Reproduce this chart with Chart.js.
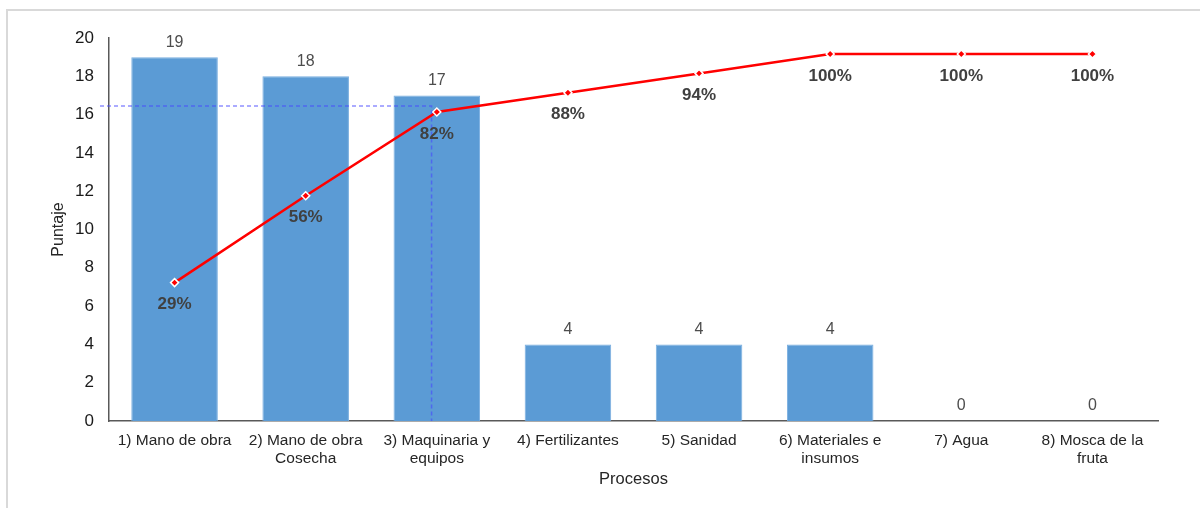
<!DOCTYPE html>
<html>
<head>
<meta charset="utf-8">
<script src="https://cdn.jsdelivr.net/npm/chart.js@4.4.1/dist/chart.umd.min.js"></script>
<style>
  html, body { margin: 0; padding: 0; background: #ffffff; }
  #wrap { width: 1200px; height: 508px; position: relative; }
</style>
</head>
<body>
<div id="wrap"><canvas id="pareto" width="1200" height="508"></canvas></div>
<script>
// Pareto data: score per process and cumulative share
const categories = [
  ['1) Mano de obra'],
  ['2) Mano de obra', 'Cosecha'],
  ['3) Maquinaria y', 'equipos'],
  ['4) Fertilizantes'],
  ['5) Sanidad'],
  ['6) Materiales e', 'insumos'],
  ['7) Agua'],
  ['8) Mosca de la', 'fruta']
];
const scores = [19, 18, 17, 4, 4, 4, 0, 0];
const cumulativePct = [29, 56, 82, 88, 94, 100, 100, 100];
const scoreTicks = [0, 2, 4, 6, 8, 10, 12, 14, 16, 18, 20];

// 80/20 cut-off guide (score level and category position)
const cutoffScore = 16.45;
const cutoffCategory = 1.96;

const FONT = '"Liberation Sans", Arial, sans-serif';

const framePlugin = {
  id: 'frame',
  beforeDraw(chart) {
    const ctx = chart.ctx;
    ctx.save();
    ctx.strokeStyle = '#d9d9d9';
    ctx.lineWidth = 2;
    ctx.beginPath();
    ctx.moveTo(7, chart.height);
    ctx.lineTo(7, 10);
    ctx.lineTo(chart.width, 10);
    ctx.stroke();
    ctx.restore();
  }
};

const cutoffPlugin = {
  id: 'cutoff',
  afterDatasetDraw(chart, args) {
    if (args.index !== 0) return;
    const ctx = chart.ctx;
    const x = chart.scales.x;
    const y = chart.scales.y;
    const py = y.getPixelForValue(cutoffScore);
    const step = x.getPixelForValue(1) - x.getPixelForValue(0);
    const px = x.getPixelForValue(2) + (cutoffCategory - 2) * step;
    ctx.save();
    ctx.strokeStyle = 'rgba(70, 70, 255, 0.6)';
    ctx.lineWidth = 1.5;
    ctx.setLineDash([4, 3]);
    ctx.beginPath();
    ctx.moveTo(chart.chartArea.left - 9, py);
    ctx.lineTo(px, py);
    ctx.lineTo(px, chart.chartArea.bottom);
    ctx.stroke();
    ctx.restore();
  }
};

const labelPlugin = {
  id: 'valueLabels',
  afterDatasetsDraw(chart) {
    const ctx = chart.ctx;
    ctx.save();
    ctx.textAlign = 'center';
    ctx.textBaseline = 'middle';
    ctx.font = '16px ' + FONT;
    ctx.fillStyle = '#4d4d4d';
    chart.getDatasetMeta(0).data.forEach((bar, i) => {
      ctx.fillText(String(scores[i]), bar.x, bar.y - 15);
    });
    ctx.font = 'bold 17px ' + FONT;
    ctx.fillStyle = '#404040';
    chart.getDatasetMeta(1).data.forEach((pt, i) => {
      ctx.fillText(cumulativePct[i] + '%', pt.x, pt.y + 22);
    });
    ctx.restore();
  }
};

new Chart(document.getElementById('pareto'), {
  data: {
    labels: categories,
    datasets: [
      {
        type: 'bar',
        data: scores,
        yAxisID: 'y',
        backgroundColor: '#5b9bd5',
        borderColor: '#79aee0',
        borderWidth: 1,
        barPercentage: 0.66,
        categoryPercentage: 1.0,
        order: 1
      },
      {
        type: 'line',
        data: cumulativePct,
        yAxisID: 'y1',
        borderColor: '#ff0000',
        borderWidth: 2.5,
        pointStyle: 'rectRot',
        pointRadius: 4,
        pointBackgroundColor: '#ff0000',
        pointBorderColor: '#ffffff',
        pointBorderWidth: 1.5,
        tension: 0,
        order: 0
      }
    ]
  },
  options: {
    responsive: false,
    animation: false,
    layout: { padding: { top: 38, right: 42, bottom: 15, left: 44 } },
    plugins: {
      legend: { display: false },
      tooltip: { enabled: false }
    },
    scales: {
      x: {
        grid: { display: false, drawTicks: false },
        border: { display: true, color: '#595959', width: 1.5 },
        ticks: {
          color: '#262626',
          font: { family: FONT, size: 15.5 },
          padding: 10,
          maxRotation: 0,
          autoSkip: false
        },
        title: {
          display: true,
          text: 'Procesos',
          color: '#262626',
          font: { family: FONT, size: 16.5 },
          padding: { top: 4, bottom: 4 }
        },
        afterFit(scale) { scale.height = 72; }
      },
      y: {
        position: 'left',
        min: 0,
        max: 20,
        afterBuildTicks(scale) { scale.ticks = scoreTicks.map(v => ({ value: v })); },
        grid: { display: false, drawTicks: false },
        border: { display: true, color: '#595959', width: 1.5 },
        ticks: {
          color: '#1a1a1a',
          font: { family: FONT, size: 17 },
          padding: 15
        },
        title: {
          display: true,
          text: 'Puntaje',
          color: '#262626',
          font: { family: FONT, size: 16 },
          padding: { top: 5, bottom: 4 }
        },
        afterFit(scale) { scale.width = 65; }
      },
      y1: {
        display: false,
        min: -14,
        max: 105
      }
    }
  },
  plugins: [framePlugin, cutoffPlugin, labelPlugin]
});
</script>
</body>
</html>
